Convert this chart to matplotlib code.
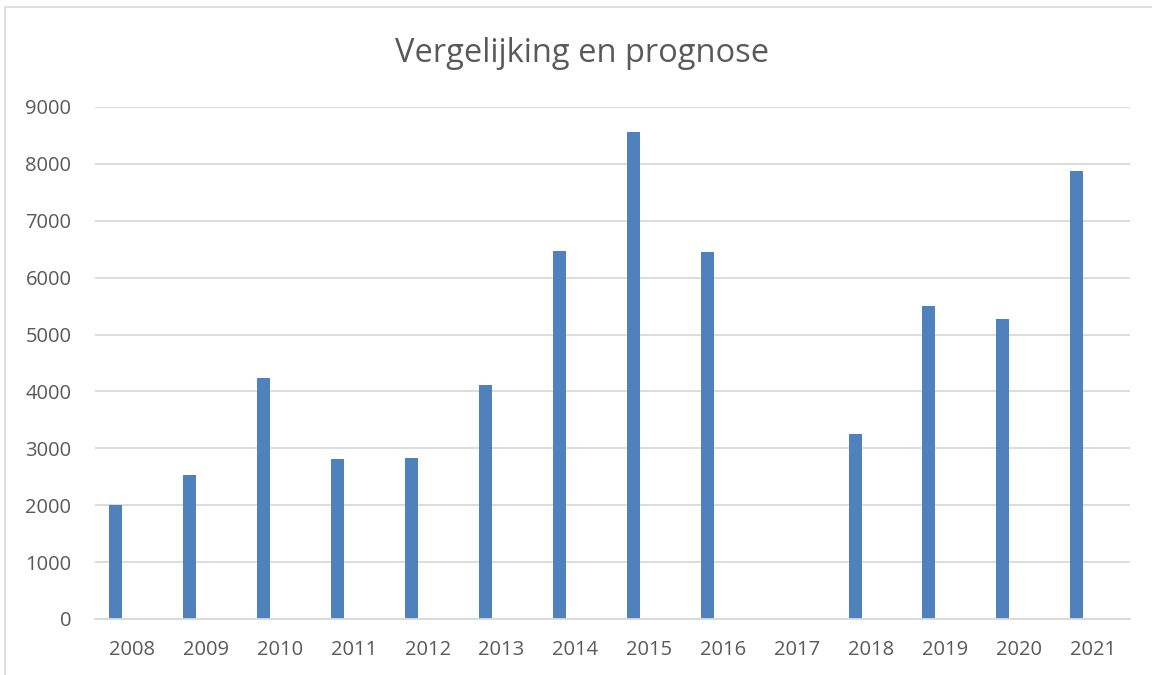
import matplotlib.pyplot as plt
import numpy as np
from matplotlib.patches import Rectangle

# Data
years = ['2008', '2009', '2010', '2011', '2012', '2013', '2014',
         '2015', '2016', '2017', '2018', '2019', '2020', '2021']
values = [2000, 2530, 4245, 2815, 2830, 4105, 6460,
          8555, 6455, 0, 3250, 5505, 5270, 7880]
yticks = [0, 1000, 2000, 3000, 4000, 5000, 6000, 7000, 8000, 9000]

plt.rcParams['font.family'] = ['Open Sans', 'DejaVu Sans']
text_color = '#595959'
grid_color = '#d9d9d9'

fig = plt.figure(figsize=(11.52, 6.75), dpi=100)
ax = fig.add_axes([95 / 1152, 1 - 619 / 675, (1130 - 95) / 1152, (619 - 107) / 675])

# chart border (Excel-style frame)
fig.patches.append(Rectangle((5 / 1152, -0.1), 1.1, 1 - 7 / 675 + 0.1,
                             transform=fig.transFigure, fill=False,
                             edgecolor=grid_color, linewidth=1.2))

x = np.arange(len(years))
ax.bar(x - 0.219, values, width=0.176, color='#4f81bd', zorder=3)

ax.set_xlim(-0.5, len(years) - 0.5)
ax.set_ylim(0, 9000)
ax.set_yticks(yticks)
ax.set_xticks(x)
ax.set_xticklabels(years)

ax.grid(axis='y', color=grid_color, linewidth=1.3, zorder=0)
for side in ['top', 'right', 'left']:
    ax.spines[side].set_visible(False)
ax.spines['bottom'].set_color(grid_color)
ax.spines['bottom'].set_linewidth(1.3)
ax.spines['bottom'].set_zorder(4)

ax.tick_params(axis='both', length=0, labelsize=14.5, colors=text_color)
ax.tick_params(axis='y', pad=17)
ax.tick_params(axis='x', pad=15)

fig.text(582 / 1152, 1 - 53 / 675, 'Vergelijking en prognose', ha='center', va='center',
         fontsize=23.5, color=text_color)

fig.savefig('out.png', dpi=100)
